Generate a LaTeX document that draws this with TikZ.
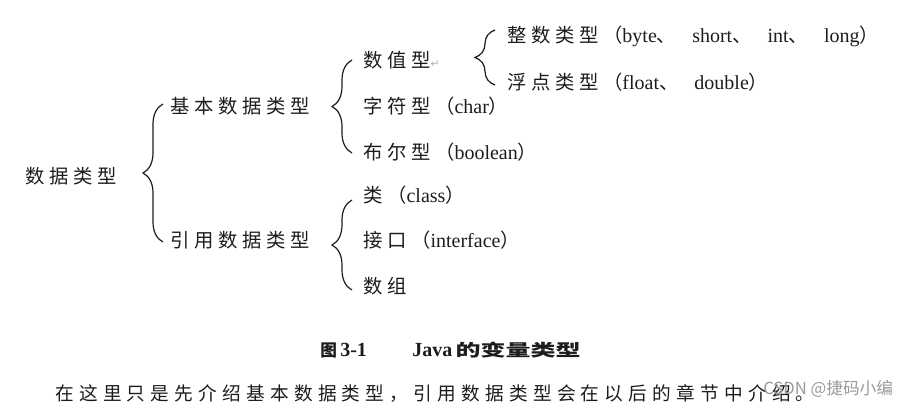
\documentclass[tikz,border=0pt]{standalone}
\usepackage{fontspec}
\usepackage{xcolor}
\setmainfont{Liberation Serif}
\newfontfamily\zhfont[LetterSpace=24]{Noto Sans CJK SC}
\newfontfamily\capzhfont[FakeStretch=1.5]{Noto Sans CJK SC}
\newfontfamily\capfigfont{Noto Sans CJK SC}
\newfontfamily\bodyzhfont[LetterSpace=28]{Noto Sans CJK SC}
\newfontfamily\markfont{Noto Sans CJK SC}
\newfontfamily\symfont{DejaVu Sans}
\usetikzlibrary{decorations.pathreplacing,calc}
\definecolor{TextDark}{HTML}{1C1C1C}
\definecolor{MarkGray}{HTML}{9A9A9A}
\newcommand\zh[1]{{\fontsize{14.5}{17}\zhfont #1}}
\newcommand\dun{\zh{、}\hspace{12pt}}

\begin{document}
\begin{tikzpicture}[x=0.75pt,y=-0.75pt,
    lbl/.style={anchor=west, inner sep=0pt, text=TextDark, font=\fontsize{15}{17}\selectfont},
    brc/.style={draw=TextDark, line width=0.9pt, decorate, decoration={brace, amplitude=15pt}}]
        \useasboundingbox (0,0) rectangle (914,406);
        % tree of types
        \node[lbl] (root) at (25,176) {\zh{数据类型}};
        \node[lbl] (basic) at (170,106) {\zh{基本数据类型}};
        \node[lbl] (ref) at (170,240) {\zh{引用数据类型}};
        \node[lbl] (num) at (363,60) {\zh{数值型}{\symfont\color{gray!60}\fontsize{8}{9}\selectfont ↵}};
        \node[lbl] (chr) at (363,106) {\zh{字符型（}char\zh{）}};
        \node[lbl] (bool) at (363,152) {\zh{布尔型（}boolean\zh{）}};
        \node[lbl] (cls) at (363,195) {\zh{类（}class\zh{）}};
        \node[lbl] (ifc) at (363,240) {\zh{接口（}interface\zh{）}};
        \node[lbl] (arr) at (363,286) {\zh{数组}};
        \node[lbl] (int) at (507,36) {\zh{整数类型（}byte\dun short\dun int\dun long\zh{）}};
        \node[lbl] (flt) at (507,82) {\zh{浮点类型（}float\dun double\zh{）}};
        % braces
        \draw[brc] ($(ref.west)+(-7,2)$) -- ($(basic.west)+(-7,-2)$);
        \draw[brc] ($(bool.west)+(-11,1)$) -- ($(num.west)+(-11,0)$);
        \draw[brc] ($(arr.west)+(-11,4)$) -- ($(cls.west)+(-11,5)$);
        \draw[brc] ($(flt.west)+(-12,3)$) -- ($(int.west)+(-12,-6)$);
        % caption and text below
        \node[lbl, font=\fontsize{15}{17}\selectfont\bfseries] (capnum) at (320,350) {{\capfigfont\fontsize{12.5}{15}\selectfont 图}\,3-1};
        \node[lbl, font=\fontsize{15}{17}\selectfont\bfseries] (captitle) at (412,350) {Java\,{\capzhfont\fontsize{12.5}{15}\selectfont 的变量类型}};
        \node[lbl, font=\fontsize{14}{16}\bodyzhfont] (body) at (55,394) {在这里只是先介绍基本数据类型，引用数据类型会在以后的章节中介绍。};
        \node[lbl, text=MarkGray, font=\fontsize{12.5}{15}\markfont] (mark) at (763,389) {CSDN @捷码小编};
    \end{tikzpicture}
\end{document}
